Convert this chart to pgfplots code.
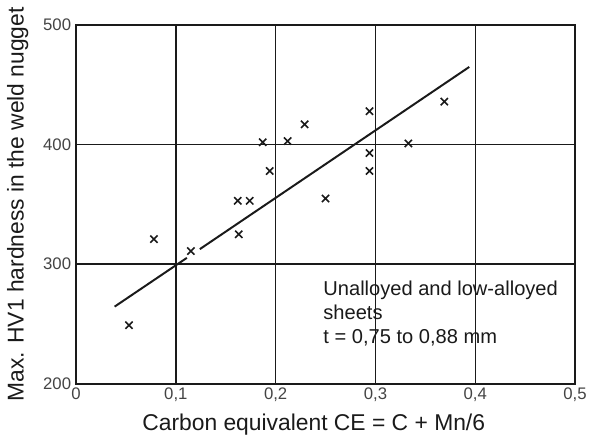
\documentclass[border=0pt]{standalone}
\usepackage{fontspec}
\setmainfont{Liberation Sans}
\usepackage{pgfplots}
\pgfplotsset{compat=1.18}
\definecolor{ink}{HTML}{1A1A1A}
\definecolor{ticktxt}{HTML}{444444}

\begin{document}
\begin{tikzpicture}
\begin{axis}[
  scale only axis,
  width=252.5bp, height=181.5bp,
  xmin=0, xmax=0.5, ymin=200, ymax=500,
  xtick={0,0.1,0.2,0.3,0.4,0.5},
  xticklabels={0,{0,1},{0,2},{0,3},{0,4},{0,5}},
  ytick={200,300,400,500},
  major tick length=0pt,
  grid=major,
  grid style={color=ink, line width=0.75bp},
  axis line style={color=ink, line width=0.8bp},
  tick label style={font=\fontsize{8.5}{9}\selectfont, color=ticktxt},
  /pgf/number format/assume math mode=true,
  yticklabel style={xshift=1bp},
  xticklabel style={inner sep=2pt},
  xlabel={Carbon equivalent CE = C + Mn/6},
  ylabel={Max. HV1 hardness in the weld nugget},
  xlabel style={font=\fontsize{11.6}{13}\selectfont, color=ink,
    at={(axis description cs:0.5,0)}, anchor=north, inner sep=0pt, yshift=-15bp, xshift=-6bp},
  ylabel style={font=\fontsize{11.6}{13}\selectfont, color=ink,
    at={(axis description cs:0,0.5)}, anchor=center, yshift=29.5bp},
  clip=false,
]
% measured points
\addplot[only marks, mark=x, mark size=2.6pt, color=ink, line width=0.8bp] coordinates {
  (0.053,249) (0.078,321) (0.115,311) (0.163,325)
  (0.162,353) (0.174,353) (0.194,378) (0.187,402)
  (0.212,403) (0.229,417) (0.250,355) (0.294,428)
  (0.294,393) (0.294,378) (0.333,401) (0.369,436)
};
% regression line (broken where it meets the mark at 0.115)
\addplot[color=ink, line width=1bp] coordinates {(0.0386,264.5) (0.111,305.3)};
\addplot[color=ink, line width=1bp] coordinates {(0.124,312.6) (0.394,465)};
\node[anchor=north west, inner sep=0pt, align=left, color=ink,
      font=\fontsize{10.2}{12}\selectfont]
  at (axis cs:0.2475,286) {Unalloyed and low-alloyed\\sheets\\t = 0,75 to 0,88 mm};
\coordinate (bbl) at (axis description cs:-0.1525,-0.152);
\coordinate (btr) at (axis description cs:1.028,1.07);
\end{axis}
\pgfresetboundingbox
\path[use as bounding box] (bbl) rectangle (btr);
\end{tikzpicture}
\end{document}
